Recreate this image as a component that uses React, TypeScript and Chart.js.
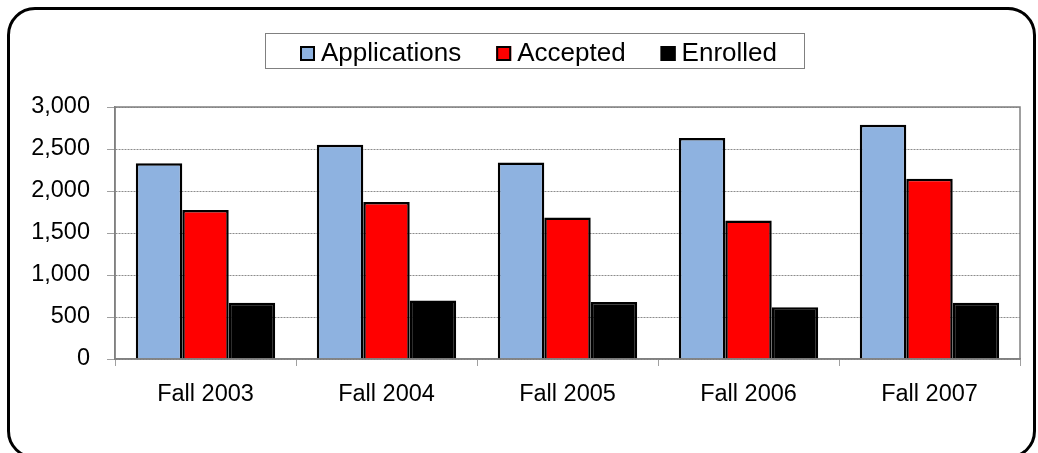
import React, { useEffect, useRef } from "react";
import { Chart, registerables } from "chart.js";

Chart.register(...registerables);

const categories = ["Fall 2003", "Fall 2004", "Fall 2005", "Fall 2006", "Fall 2007"];
const applications = [2330, 2550, 2340, 2630, 2790];
const accepted = [1775, 1870, 1685, 1650, 2145];
const enrolled = [670, 695, 680, 615, 670];
const seriesNames = ["Applications", "Accepted", "Enrolled"];
const seriesColors = ["#8EB2E0", "#FF0000", "#000000"];

const FONT = "'Liberation Sans', Arial, sans-serif";

const framePlugin = {
  id: "plotFrame",
  afterDraw(chart: any) {
    const { ctx, chartArea } = chart;
    ctx.save();
    ctx.strokeStyle = "#808080";
    ctx.lineWidth = 1.5;
    ctx.strokeRect(chartArea.left, chartArea.top, chartArea.right - chartArea.left, chartArea.bottom - chartArea.top);
    ctx.restore();
  },
};

const legendPlugin = {
  id: "boxLegend",
  afterDraw(chart: any) {
    const { ctx } = chart;
    const boxL = 265, boxR = 804, boxT = 33, boxB = 68;
    ctx.save();
    ctx.fillStyle = "#ffffff";
    ctx.fillRect(boxL, boxT, boxR - boxL, boxB - boxT);
    ctx.strokeStyle = "#808080";
    ctx.lineWidth = 1;
    ctx.strokeRect(boxL + 0.5, boxT + 0.5, boxR - boxL, boxB - boxT);
    ctx.font = `26px ${FONT}`;
    ctx.textBaseline = "alphabetic";
    const sq = 15, gapSq = 6, gapItem = 35;
    const ds = chart.data.datasets;
    const widths = ds.map((d: any) => sq + gapSq + ctx.measureText(d.label).width);
    const total = widths.reduce((a: number, b: number) => a + b, 0) + gapItem * (ds.length - 1);
    let x = boxL + (boxR - boxL - total) / 2 + 4;
    ds.forEach((d: any, i: number) => {
      ctx.fillStyle = d.backgroundColor;
      ctx.fillRect(x, 46, sq, sq);
      ctx.strokeStyle = "#000000";
      ctx.lineWidth = 2;
      ctx.strokeRect(x + 1, 47, sq - 2, sq - 2);
      ctx.fillStyle = "#000000";
      ctx.fillText(d.label, x + sq + gapSq, 61);
      x += widths[i] + gapItem;
    });
    ctx.restore();
  },
};

export default function App() {
  const ref = useRef<HTMLCanvasElement | null>(null);
  useEffect(() => {
    if (!ref.current) return;
    const values = [applications, accepted, enrolled];
    const chart = new Chart(ref.current, {
      type: "bar",
      data: {
        labels: categories,
        datasets: values.map((v, i) => ({
          label: seriesNames[i],
          data: v,
          backgroundColor: seriesColors[i],
          borderColor: "#000000",
          borderWidth: 2.5,
          categoryPercentage: 0.77,
          barPercentage: 1.0,
        })),
      },
      options: {
        responsive: false,
        animation: false,
        devicePixelRatio: 1,
        layout: { padding: { top: 107, right: 18, left: 0, bottom: 0 } },
        plugins: { legend: { display: false }, tooltip: { enabled: false } },
        scales: {
          x: {
            grid: { display: true, offset: true, drawOnChartArea: false, drawTicks: true, tickLength: 7, color: "#a0a0a0" },
            border: { display: true, color: "#808080", width: 1.5 },
            ticks: { color: "#000000", font: { family: FONT, size: 23.5 }, padding: 14 },
            afterFit: (s: any) => { s.height = 94; },
          },
          y: {
            min: 0,
            max: 3000,
            ticks: {
              stepSize: 500,
              color: "#000000",
              font: { family: FONT, size: 23.5 },
              padding: 17,
              callback: (v: any) => Number(v).toLocaleString("en-US"),
            },
            grid: { color: "#8c8c8c", lineWidth: 1, tickLength: 8, tickColor: "#a0a0a0", tickBorderDash: [] },
            border: { display: true, color: "#808080", width: 1.5, dash: [2, 1] },
            afterFit: (s: any) => { s.width = 115; },
          },
        },
      },
      plugins: [framePlugin, legendPlugin],
    });
    return () => chart.destroy();
  }, []);

  return (
    <div style={{ position: "fixed", left: 0, top: 0, width: 1038, height: 453, overflow: "hidden", background: "#ffffff" }}>
      <canvas ref={ref} width={1038} height={453} style={{ position: "absolute", left: 0, top: 0 }} />
      <div
        style={{
          position: "absolute",
          left: 7,
          top: 7,
          width: 1029,
          height: 452,
          border: "3px solid #000000",
          borderRadius: 28,
          boxSizing: "border-box",
          pointerEvents: "none",
        }}
      />
    </div>
  );
}
